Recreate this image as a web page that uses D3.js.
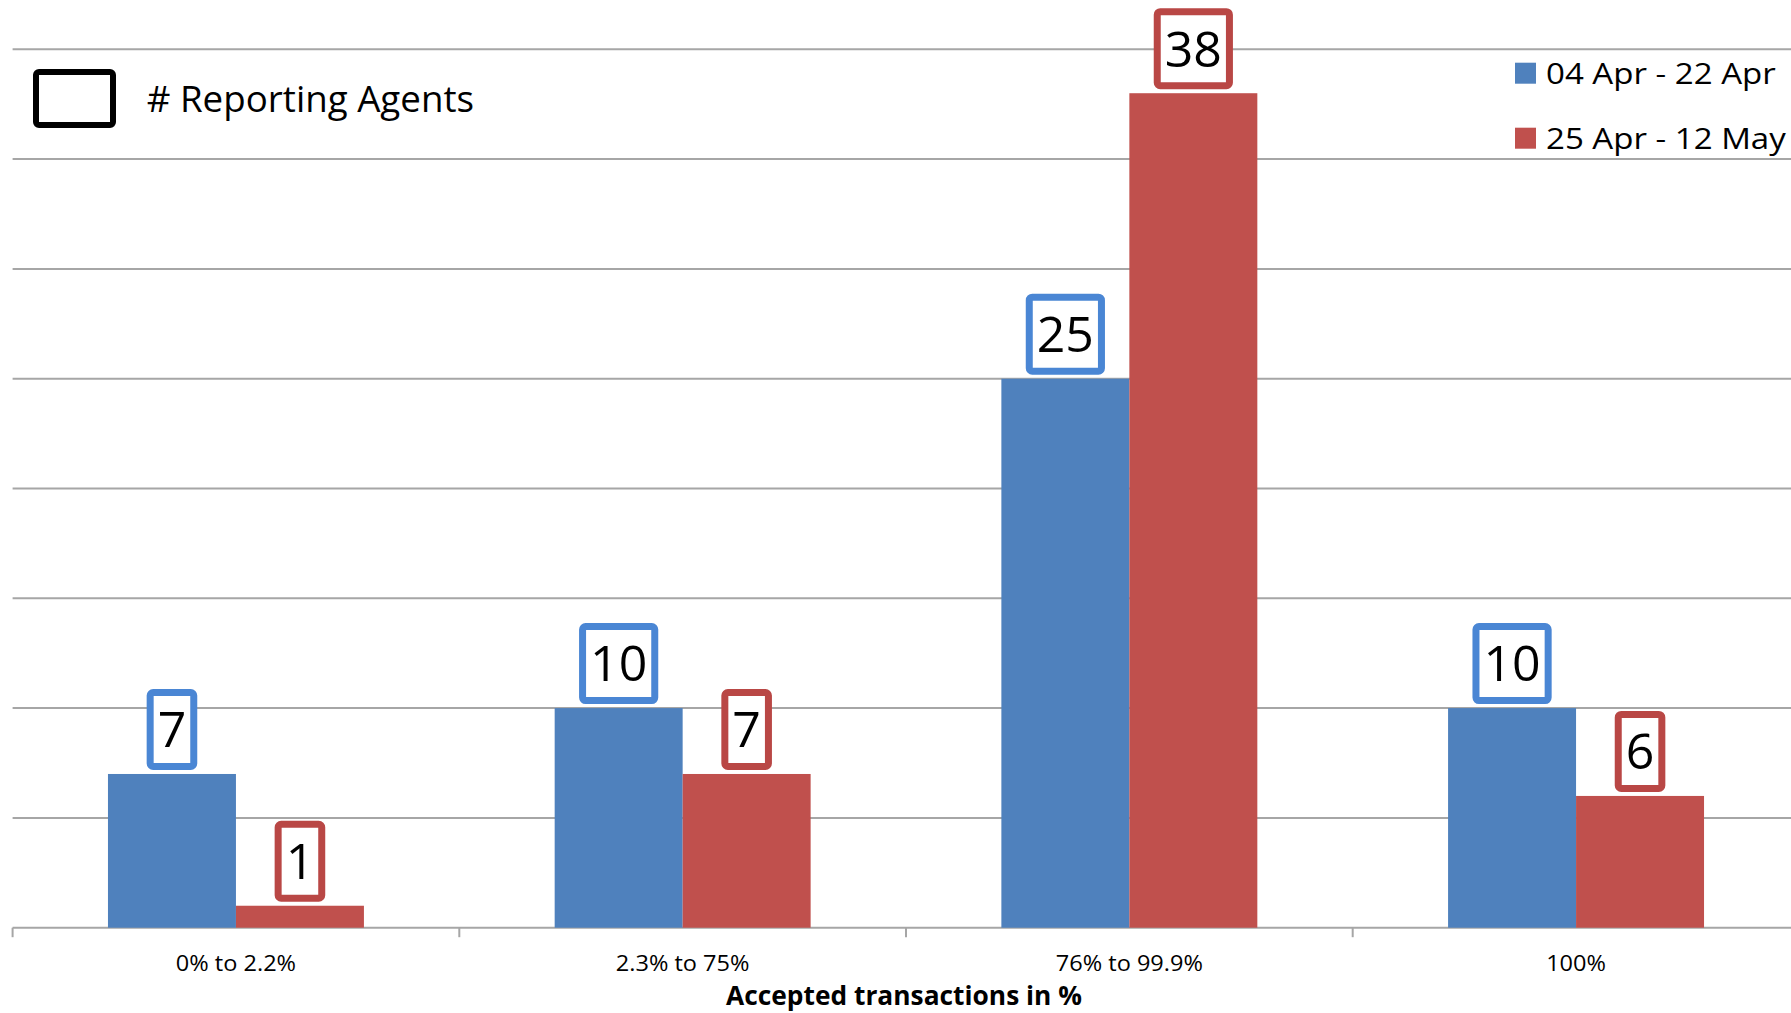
<!DOCTYPE html>
<html>
<head>
<meta charset="utf-8">
<script src="https://cdn.jsdelivr.net/npm/d3@7"></script>
<style>
  html, body { margin: 0; padding: 0; background: #ffffff; }
  svg { display: block; font-family: "Open Sans", "Noto Sans", sans-serif; }
</style>
</head>
<body>
<svg id="chart" width="1791" height="1013"></svg>
<script>
// Accepted-transaction buckets on the x axis
const categories = ["0% to 2.2%", "2.3% to 75%", "76% to 99.9%", "100%"];
// Reporting periods
const seriesNames = ["04 Apr - 22 Apr", "25 Apr - 12 May"];
// Number of reporting agents per bucket, one array per period
const period1Values = [7, 10, 25, 10];
const period2Values = [1, 7, 38, 6];
// Value gridlines
const yTickValues = [0, 5, 10, 15, 20, 25, 30, 35, 40];
const xAxisTitle = "Accepted transactions in %";
const legendTitle = "# Reporting Agents";

const seriesValues = [period1Values, period2Values];
const barColors = ["#4f81bd", "#c0504d"];
const boxColors = ["#4a86d4", "#b94745"];
const gridColor = "#a6a6a6";

const W = 1791, H = 1013;
const plotLeft = 12.6, plotRight = 1799.4;
const baseY = 927.7, topY = 49.3;

const svg = d3.select("#chart");

const x0 = d3.scaleBand()
  .domain(categories)
  .range([plotLeft, plotRight])
  .paddingInner(0.427)
  .paddingOuter(0.2135);

const x1 = d3.scaleBand()
  .domain(d3.range(seriesNames.length))
  .range([0, x0.bandwidth()]);

const y = d3.scaleLinear().domain([0, 40]).range([baseY, topY]);

// stretch a text element horizontally to a fraction of its natural width
function stretch(sel, factor) {
  sel.each(function () {
    const w = this.getComputedTextLength();
    d3.select(this)
      .attr("textLength", w * factor)
      .attr("lengthAdjust", "spacingAndGlyphs");
  });
}

// horizontal gridlines
svg.append("g")
  .selectAll("line")
  .data(yTickValues)
  .join("line")
  .attr("x1", plotLeft)
  .attr("x2", W)
  .attr("y1", d => y(d))
  .attr("y2", d => y(d))
  .attr("stroke", gridColor)
  .attr("stroke-width", 2);

// category boundary ticks below the baseline
const halfGap = (x0.step() - x0.bandwidth()) / 2;
const boundaries = categories.map(c => x0(c) - halfGap).concat([x0(categories[categories.length - 1]) + x0.bandwidth() + halfGap]);
svg.append("g")
  .selectAll("line")
  .data(boundaries)
  .join("line")
  .attr("x1", d => d).attr("x2", d => d)
  .attr("y1", baseY).attr("y2", baseY + 9.5)
  .attr("stroke", gridColor)
  .attr("stroke-width", 2);

// bars
const groups = svg.append("g")
  .selectAll("g")
  .data(categories)
  .join("g")
  .attr("transform", d => `translate(${x0(d)},0)`);

groups.selectAll("rect")
  .data((c, i) => seriesValues.map((vals, s) => ({ s, v: vals[i] })))
  .join("rect")
  .attr("x", d => x1(d.s))
  .attr("width", x1.bandwidth())
  .attr("y", d => y(d.v))
  .attr("height", d => y(0) - y(d.v))
  .attr("fill", d => barColors[d.s]);

// boxed value labels above each bar
const labelFont = 50, boxH = 81, boxStroke = 7, boxGap = 4, capH = 0.714 * labelFont;
groups.each(function (c, i) {
  const g = d3.select(this);
  seriesValues.forEach((vals, s) => {
    const v = vals[i];
    const cx = x1(s) + x1.bandwidth() / 2;
    const bottom = y(v) - boxGap;
    const top = bottom - boxH;
    const lg = g.append("g");
    const rect = lg.append("rect");
    const t = lg.append("text")
      .attr("x", cx)
      .attr("y", (top + bottom) / 2 + capH / 2)
      .attr("text-anchor", "middle")
      .attr("font-size", labelFont)
      .attr("fill", "#000")
      .text(v);
    const tw = t.node().getComputedTextLength();
    const outerW = tw + 22;
    rect.attr("x", cx - outerW / 2 + boxStroke / 2)
      .attr("y", top + boxStroke / 2)
      .attr("width", outerW - boxStroke)
      .attr("height", boxH - boxStroke)
      .attr("rx", 3).attr("ry", 3)
      .attr("fill", "#fff")
      .attr("stroke", boxColors[s])
      .attr("stroke-width", boxStroke);
  });
});

// category labels
const xAxis = svg.append("g")
  .attr("transform", `translate(0,${baseY})`)
  .call(d3.axisBottom(x0).tickSize(0));
xAxis.select(".domain").remove();
xAxis.selectAll("text")
  .attr("y", 43)
  .attr("dy", 0)
  .attr("font-family", "Open Sans")
  .attr("font-size", 21)
  .attr("fill", "#000");
stretch(xAxis.selectAll("text"), 1.12);

// axis title
const title = svg.append("text")
  .attr("x", 904)
  .attr("y", 1005)
  .attr("text-anchor", "middle")
  .attr("font-size", 27)
  .attr("font-weight", "bold")
  .attr("fill", "#000")
  .text(xAxisTitle);
stretch(title, 0.975);

// legend: label box sample
svg.append("rect")
  .attr("x", 36).attr("y", 72)
  .attr("width", 77).attr("height", 53)
  .attr("rx", 3).attr("ry", 3)
  .attr("fill", "#fff")
  .attr("stroke", "#000")
  .attr("stroke-width", 6);
const lt = svg.append("text")
  .attr("x", 146.7)
  .attr("y", 112.3)
  .attr("font-size", 36)
  .attr("fill", "#000")
  .text(legendTitle);
stretch(lt, 1.02);

// legend: series
const legend = svg.append("g")
  .selectAll("g")
  .data(seriesNames)
  .join("g")
  .attr("transform", (d, i) => `translate(1515,${62.7 + i * 65})`);
legend.append("rect")
  .attr("width", 21).attr("height", 21)
  .attr("fill", (d, i) => barColors[i]);
const legendText = legend.append("text")
  .attr("x", 31)
  .attr("y", 21.5)
  .attr("font-size", 29.5)
  .attr("fill", "#000")
  .text(d => d);
stretch(legendText, 1.12);
</script>
</body>
</html>
